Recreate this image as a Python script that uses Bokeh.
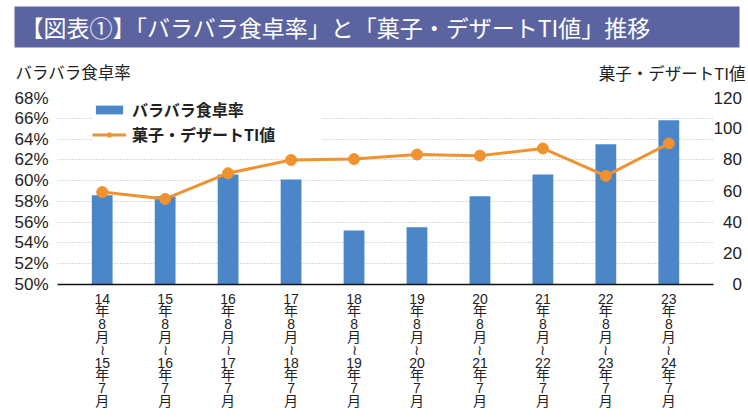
import re
from bokeh.plotting import figure
from bokeh.layouts import column, row
from bokeh.models import (Range1d, FactorRange, LinearAxis, FixedTicker, Legend,
                          LegendItem, Label, BoxAnnotation)
from bokeh.embed import file_html
from bokeh.resources import INLINE

# ---- data ----
periods = ["14年8月～15年7月", "15年8月～16年7月", "16年8月～17年7月", "17年8月～18年7月",
           "18年8月～19年7月", "19年8月～20年7月", "20年8月～21年7月", "21年8月～22年7月",
           "22年8月～23年7月", "23年8月～24年7月"]
bara_rate = [58.6, 58.5, 60.6, 60.1, 55.2, 55.5, 58.5, 60.6, 63.5, 65.8]
ti_value = [59.3, 54.9, 71.4, 79.9, 80.5, 83.4, 82.7, 87.3, 69.7, 90.5]
left_ticks = [50, 52, 54, 56, 58, 60, 62, 64, 66, 68]
right_ticks = [0, 20, 40, 60, 80, 100, 120]

title_text = "【図表①】「バラバラ食卓率」と「菓子・デザートTI値」推移"
left_title = "バラバラ食卓率"
right_title = "菓子・デザートTI値"
bar_label = "バラバラ食卓率"
line_label = "菓子・デザートTI値"


def vertical(label):
    toks = re.findall(r"\d+|.", label)
    return "\n".join("≀" if t == "～" else t for t in toks)


cats = [vertical(s) for s in periods]

NUM_FONT = "Liberation Sans"
JP_FONT = "Noto Sans CJK JP"
MIX_FONT = "Liberation Sans, Noto Sans CJK JP"
BAR_COLOR = "#4a86c8"
LINE_COLOR = "#f0922f"
TEXT_COLOR = "#222222"
BANNER_COLOR = "#5b64a1"

W = 748
HEAD_H = 88
MAIN_H = 420 - HEAD_H

# ---- header strip (banner title + axis titles) ----
head = figure(width=W, height=HEAD_H, x_range=Range1d(0, W), y_range=Range1d(0, HEAD_H),
              x_axis_type=None, y_axis_type=None, output_backend="svg",
              toolbar_location=None, min_border_left=0, min_border_right=0,
              min_border_top=0, min_border_bottom=0)
head.outline_line_color = None
head.add_layout(BoxAnnotation(left=14, right=739, bottom=HEAD_H - 47, top=HEAD_H - 6,
                              fill_color=BANNER_COLOR, fill_alpha=1.0, line_color=None))
head.add_layout(Label(x=20, y=HEAD_H - 26.5, text=title_text, text_baseline="middle",
                      text_align="left", text_font=JP_FONT, text_font_size="23px",
                      text_color="white"))
head.add_layout(Label(x=15, y=HEAD_H - 71, text=left_title, text_baseline="middle",
                      text_align="left", text_font=JP_FONT, text_font_size="16.5px",
                      text_color=TEXT_COLOR))
head.add_layout(Label(x=745, y=HEAD_H - 72, text=right_title, text_baseline="middle",
                      text_align="right", text_font=JP_FONT, text_font_size="16.5px",
                      text_color=TEXT_COLOR))

# ---- main chart ----
p = figure(width=W, height=MAIN_H,
           x_range=FactorRange(*cats, range_padding=0.042),
           y_range=Range1d(50, 68),
           output_backend="svg", toolbar_location=None,
           min_border_left=57, min_border_top=9, min_border_right=35,
           min_border_bottom=136)

p.outline_line_color = None
p.background_fill_color = "white"
p.border_fill_color = "white"

# left axis
ya = p.yaxis[0]
ya.ticker = FixedTicker(ticks=left_ticks)
ya.major_label_overrides = {t: f"{t}%" for t in left_ticks}
ya.axis_line_color = None
ya.major_tick_line_color = None
ya.major_tick_out = 0
ya.minor_tick_line_color = None
ya.major_label_standoff = 9
ya.major_label_text_font = NUM_FONT
ya.major_label_text_font_size = "17px"
ya.major_label_text_color = TEXT_COLOR

# right axis
p.extra_y_ranges = {"ti": Range1d(0, 120)}
ra = LinearAxis(y_range_name="ti", ticker=FixedTicker(ticks=right_ticks))
ra.major_label_overrides = {t: "\u2007" * (3 - len(str(t))) + str(t) for t in right_ticks}
ra.axis_line_color = None
ra.major_tick_line_color = None
ra.major_tick_out = 0
ra.major_tick_in = 0
ra.minor_tick_line_color = None
ra.major_label_standoff = 0
ra.major_label_text_font = NUM_FONT
ra.major_label_text_font_size = "17px"
ra.major_label_text_color = TEXT_COLOR
p.add_layout(ra, "right")

# x axis
xa = p.xaxis[0]
xa.axis_line_color = "#111111"
xa.axis_line_width = 1.5
xa.major_tick_line_color = None
xa.major_tick_out = 0
xa.minor_tick_line_color = None
xa.major_label_standoff = 6
xa.major_label_text_font = MIX_FONT
xa.major_label_text_font_size = "14px"
xa.major_label_text_line_height = 0.8
xa.major_label_text_color = TEXT_COLOR
xa.major_label_orientation = "horizontal"

p.xgrid.grid_line_color = None
p.ygrid.ticker = FixedTicker(ticks=left_ticks[1:])
p.ygrid.grid_line_color = "#b5b5b5"
p.ygrid.grid_line_dash = "1 2"
p.ygrid.grid_line_width = 1

bars = p.vbar(x=cats, top=bara_rate, bottom=50, width=0.33,
              fill_color=BAR_COLOR, line_color=None)
ln = p.line(x=cats, y=ti_value, y_range_name="ti", line_color=LINE_COLOR, line_width=3)
sc = p.scatter(x=cats, y=ti_value, y_range_name="ti", size=11,
               fill_color=LINE_COLOR, line_color=LINE_COLOR)

legend = Legend(items=[LegendItem(label=bar_label, renderers=[bars]),
                       LegendItem(label=line_label, renderers=[ln, sc])],
                location=(35, 138))
legend.glyph_width = 34
legend.glyph_height = 11
legend.label_standoff = 6
legend.label_width = 190
legend.label_text_font = JP_FONT
legend.label_text_font_size = "16px"
legend.label_text_font_style = "bold"
legend.label_text_line_height = 0.9
legend.label_text_color = TEXT_COLOR
legend.spacing = 1
legend.padding = 4
legend.margin = 0
legend.border_line_color = None
legend.background_fill_alpha = 1.0
p.add_layout(legend)

layout = column(row(head), p, spacing=0)
open("out.html", "w").write(file_html(layout, INLINE))
